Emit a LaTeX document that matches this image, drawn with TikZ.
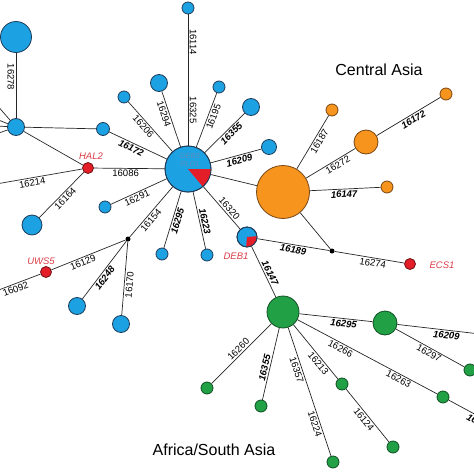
\documentclass[tikz,border=0pt]{standalone}
\usepackage{fontspec}
\setmainfont{Liberation Sans}
\definecolor{hapblue}{RGB}{28,162,226}
\definecolor{hapblueline}{RGB}{30,60,90}
\definecolor{haporange}{RGB}{247,148,30}
\definecolor{haporangeline}{RGB}{120,70,20}
\definecolor{hapgreen}{RGB}{34,160,70}
\definecolor{hapgreenline}{RGB}{15,80,35}
\definecolor{hapred}{RGB}{228,30,40}
\definecolor{hapredline}{RGB}{110,15,20}
\definecolor{haplabel}{RGB}{218,60,70}
\definecolor{hapfaint}{RGB}{95,140,190}

\begin{document}
\begin{tikzpicture}[
  x=1pt, y=-1pt,
  hap/.style={circle, draw, line width=0.8pt, inner sep=0pt, minimum size=#1},
  blu/.style={hap=#1, fill=hapblue, draw=hapblueline},
  org/.style={hap=#1, fill=haporange, draw=haporangeline},
  grn/.style={hap=#1, fill=hapgreen, draw=hapgreenline},
  smp/.style={hap=11pt, fill=hapred, draw=hapredline},
  mv/.style={circle, fill=black, inner sep=0pt, minimum size=5pt},
  ln/.style={line width=0.7pt, draw=black!85},
  mut/.style={font=\fontsize{9.5}{10}\selectfont, inner sep=1.5pt, sloped},
  mutb/.style={mut, font=\fontsize{9.5}{10}\selectfont\bfseries\itshape},
  smplbl/.style={text=haplabel, font=\fontsize{9.5}{10}\selectfont\itshape},
  region/.style={font=\fontsize{16}{18}\selectfont}
]
  \useasboundingbox (0,0) rectangle (474,474);
  \clip (0,0) rectangle (474,474);

  \node[blu=31pt] (b1) at (16,37) {};
  \node[blu=17pt] (b2) at (16,127) {};
  \node[blu=13pt] (b3) at (103,129) {};
  \node[blu=12pt] (b4) at (124,97) {};
  \node[blu=17pt] (b5) at (159,83) {};
  \node[blu=12pt] (b6) at (188,8) {};
  \node[blu=12pt] (b7) at (219,87) {};
  \node[blu=17pt] (b8) at (251,107) {};
  \node[blu=15pt] (b9) at (269,147) {};
  \node[blu=20pt] (b10) at (32,225) {};
  \node[blu=12pt] (b11) at (105,207) {};
  \node[blu=17pt] (b12) at (77,306) {};
  \node[blu=17pt] (b13) at (121,324) {};
  \node[blu=12pt] (b14) at (162,254) {};
  \node[blu=12pt] (b15) at (207,255) {};
  \node[blu=46pt] (c) at (188,169) {};
  \node[blu=20pt] (deb1) at (247,237) {};
  \node[org=53pt] (o) at (283,192) {};
  \node[org=12pt] (o1) at (332,110) {};
  \node[org=24pt] (o2) at (366,142) {};
  \node[org=12pt] (o3) at (446,94) {};
  \node[org=12pt] (o4) at (387,187) {};
  \node[grn=32pt] (g) at (283,312) {};
  \node[grn=24pt] (g1) at (385,323) {};
  \node[grn=12pt] (g2) at (470,370) {};
  \node[grn=12pt] (g3) at (443,397) {};
  \node[grn=12pt] (g4) at (342,384) {};
  \node[grn=12pt] (g5) at (393,447) {};
  \node[grn=12pt] (g6) at (333,462) {};
  \node[grn=12pt] (g7) at (261,406) {};
  \node[grn=12pt] (g8) at (207,388) {};
  \node[smp] (hal2) at (88,168) {};
  \node[smp] (uws5) at (46,272) {};
  \node[smp] (ecs1) at (410,264) {};
  \node[mv] (j1) at (128,239) {};
  \node[mv] (j2) at (332,251) {};

  \coordinate (e1) at (-6,37);
  \coordinate (e2) at (-4,184);
  \coordinate (e3) at (-4,291);
  \coordinate (e4) at (480,334);
  \coordinate (e5) at (480,417);

  \fill[hapred] (c.center) -- ++(0:23) arc[start angle=0, end angle=50, radius=23] -- cycle;
  \draw[hapblueline, line width=0.8pt] (c.center) circle[radius=23];
  \fill[hapred] (deb1.center) -- ++(-5:10) arc[start angle=-5, end angle=95, radius=10] -- cycle;
  \draw[hapblueline, line width=0.8pt] (deb1.center) circle[radius=10];
  \node[font=\fontsize{7.5}{7.5}\selectfont\itshape, text=hapfaint, align=center] (ctxt) at (190,160) {DEB3\\PLO1};

  \draw[ln] (b1) -- (e1);
  \foreach \y [count=\i] in {104,119,126,134} {
    \coordinate (fan\i) at (-4,\y);
    \draw[ln] (b2) -- (fan\i);
  }
  \draw[ln] (b1) -- node[mut, pos=.37, below] {16278} (b2);
  \draw[ln] (b2) -- (b3);
  \draw[ln] (b3) -- node[mutb, pos=.42, below] {16172} (c);
  \draw[ln] (b2) -- (hal2);
  \draw[ln] (e2) -- node[mut, pos=.41, below] {16214} (hal2);
  \draw[ln] (hal2) -- node[mut, pos=.45, below] {16086} (c);
  \draw[ln] (b10) -- node[mut, pos=.5, below] {16164} (hal2);
  \draw[ln] (b11) -- node[mut, pos=.43, below] {16291} (c);
  \draw[ln] (j1) -- node[mut, pos=.4, below] {16154} (c);
  \draw[ln] (uws5) -- node[mut, pos=.4, below] {16129} (j1);
  \draw[ln] (e3) -- node[mut, pos=.4, below] {16092} (uws5);
  \draw[ln] (b12) -- node[mutb, pos=.415, below] {16248} (j1);
  \draw[ln] (j1) -- node[mut, pos=.58, below] {16170} (b13);
  \draw[ln] (b4) -- node[mut, pos=.43, below] {16206} (c);
  \draw[ln] (b5) -- node[mut, pos=.38, below] {16294} (c);
  \draw[ln] (b6) -- node[mut, pos=.21, above] {16114} node[mut, pos=.73, above] {16325} (c);
  \draw[ln] (c) -- node[mut, pos=.6, below] {16195} (b7);
  \draw[ln] (c) -- node[mutb, pos=.58, below] {16355} (b8);
  \draw[ln] (c) -- node[mutb, pos=.54, below] {16209} (b9);
  \draw[ln] (c) -- (o);
  \draw[ln] (b14) -- node[mutb, pos=.5, below] {16295} (c);
  \draw[ln] (c) -- node[mutb, pos=.54, above] {16223} (b15);
  \draw[ln] (c) -- node[mut, pos=.6, above] {16320} (deb1);
  \draw[ln] (deb1) -- node[mutb, pos=.51, below] {16189} (j2);
  \draw[ln] (j2) -- node[mut, pos=.56, below] {16274} (ecs1);
  \draw[ln] (o) -- (j2);
  \draw[ln] (deb1) -- node[mutb, pos=.57, above] {16147} (g);
  \draw[ln] (o) -- node[mut, pos=.57, below] {16187} (o1);
  \draw[ln] (o) -- node[mut, pos=.59, below] {16272} (o2);
  \draw[ln] (o2) -- node[mutb, pos=.535, below] {16172} (o3);
  \draw[ln] (o) -- node[mutb, pos=.48, below] {16147} (o4);
  \draw[ln] (g) -- node[mutb, pos=.61, below] {16295} (g1);
  \draw[ln] (g1) -- node[mutb, pos=.6, below] {16209} (e4);
  \draw[ln] (g1) -- node[mut, pos=.52, below] {16297} (g2);
  \draw[ln] (g) -- node[mut, pos=.325, below] {16266} node[mut, pos=.74, below] {16263} (g3);
  \draw[ln] (g3) -- node[mutb, pos=.83, below] {16} (e5);
  \draw[ln] (g) -- node[mut, pos=.65, below] {16213} (g4);
  \draw[ln] (g4) -- node[mut, pos=.51, below] {16124} (g5);
  \draw[ln] (g) -- node[mut, pos=.315, below] {16357} node[mut, pos=.74, below] {16224} (g6);
  \draw[ln] (g7) -- node[mutb, pos=.43, above] {16355} (g);
  \draw[ln] (g8) -- node[mut, pos=.51, above] {16260} (g);

  \node[smplbl] (hal2l) at (91,156) {HAL2};
  \node[smplbl] (uws5l) at (41,261) {UWS5};
  \node[smplbl] (deb1l) at (236,256) {DEB1};
  \node[smplbl] (ecs1l) at (442,265) {ECS1};
  \node[region] (ca) at (379,70) {Central Asia};
  \node[region] (asa) at (214,450) {Africa/South Asia};
\end{tikzpicture}
\end{document}
